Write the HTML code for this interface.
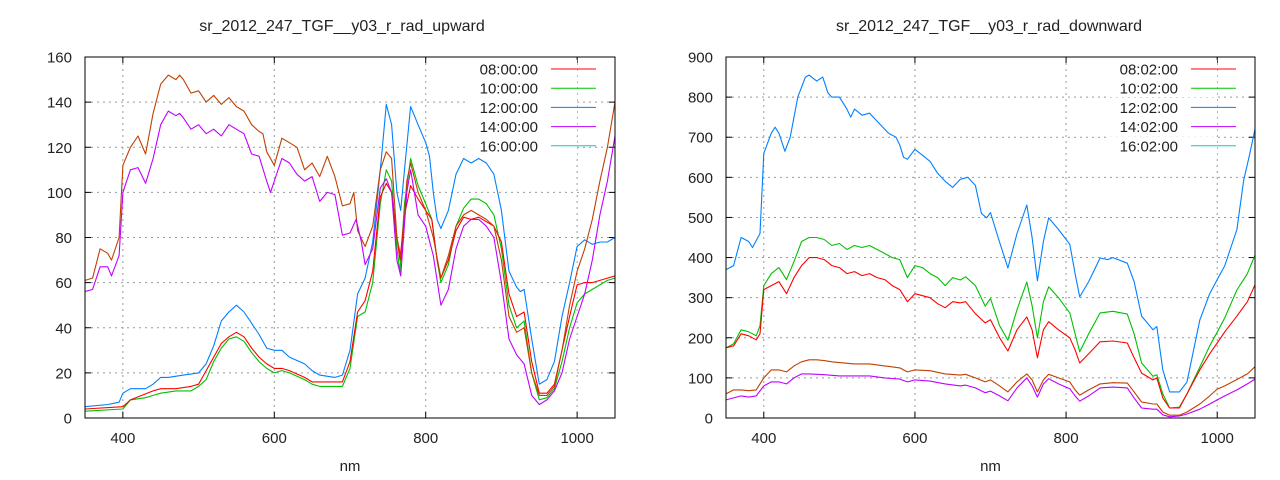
<!DOCTYPE html>
<html><head><meta charset="utf-8"><style>
body{margin:0;background:#fff;}
svg{display:block;font-family:"Liberation Sans",sans-serif;font-size:15px;fill:#222;}
</style></head><body>
<svg id="s" width="1280" height="480" xmlns="http://www.w3.org/2000/svg"></svg>
<script>
const S=document.getElementById('s');let h='';
const C={r:'#ff0000',g:'#00c000',b:'#0080ff',p:'#c000ff',o:'#c04000',c:'#00d0d0'};
function P(o){
 const X=n=>o.x0+(n-350)*(o.x1-o.x0)/700, Y=v=>418-v*(418-57)/o.ymax;
 h+=`<text x="${o.tc}" y="31" text-anchor="middle" style="font-size:16px">${o.title}</text>`;
 h+=`<text x="${(o.x0+o.x1)/2}" y="471" text-anchor="middle">nm</text>`;
 for(let v=0;v<=o.ymax;v+=o.ys){const y=Y(v);
  if(v>0&&v<o.ymax)h+=`<line x1="${o.x0}" x2="${o.x1}" y1="${y}" y2="${y}" stroke="#999" stroke-dasharray="2,4"/>`;
  h+=`<line x1="${o.x0}" x2="${o.x0+6}" y1="${y}" y2="${y}" stroke="#000"/><line x1="${o.x1-6}" x2="${o.x1}" y1="${y}" y2="${y}" stroke="#000"/>`;
  h+=`<text x="${o.x0-13}" y="${y+5.5}" text-anchor="end">${v}</text>`;}
 for(let n=400;n<=1000;n+=200){const x=X(n);
  h+=`<line x1="${x}" x2="${x}" y1="57" y2="418" stroke="#999" stroke-dasharray="2,4"/>`;
  h+=`<line x1="${x}" x2="${x}" y1="418" y2="412" stroke="#000"/><line x1="${x}" x2="${x}" y1="57" y2="63" stroke="#000"/>`;
  h+=`<text x="${x}" y="443" text-anchor="middle">${n}</text>`;}
 o.leg.forEach((t,i)=>{const y=69+i*19.2;
  h+=`<rect x="${o.x1-148}" y="${y-9}" width="110" height="18" fill="#fff"/>`;
  h+=`<text x="${o.x1-77}" y="${y+5.5}" text-anchor="end">${t[0]}</text>`;
  h+=`<line x1="${o.x1-64}" x2="${o.x1-19}" y1="${y}" y2="${y}" stroke="${C[t[1]]}"/>`;});
 h+=`<defs><clipPath id="c${o.x0}"><rect x="${o.x0}" y="57" width="${o.x1-o.x0}" height="361"/></clipPath></defs><g clip-path="url(#c${o.x0})">`;
 o.series.forEach(([col,d])=>{let pts=[];for(let i=0;i<d.length;i+=2)pts.push(X(d[i]).toFixed(1)+','+Y(d[i+1]).toFixed(1));
  h+=`<polyline fill="none" stroke="${C[col]}" stroke-width="1.1" stroke-linejoin="round" points="${pts.join(' ')}"/>`;});
 h+=`</g><rect x="${o.x0}" y="57" width="${o.x1-o.x0}" height="361" fill="none" stroke="#000"/>`;
}
P({x0:85,x1:615,tc:342,ymax:160,ys:20,title:'sr_2012_247_TGF__y03_r_rad_upward',
leg:[['08:00:00','r'],['10:00:00','g'],['12:00:00','b'],['14:00:00','p'],['16:00:00','c']],
series:[
['b',[350,5,380,6,395,7,400,11,410,13,420,13,430,13,440,15,450,18,460,18,480,19,500,20,510,24,520,32,530,43,540,47,550,50,560,47,570,42,580,37,590,31,600,30,610,30,620,27,640,24,650,21,660,19,680,18,690,19,700,30,710,55,720,62,730,78,740,110,748,139,755,130,762,100,767,92,772,110,780,138,790,130,800,122,805,116,810,100,815,88,820,84,830,92,840,108,850,115,860,113,870,115,880,113,890,108,900,92,910,65,920,58,925,56,930,57,940,35,950,15,960,17,970,25,980,45,990,60,1000,76,1010,79,1020,77,1030,78,1040,78,1050,80]],
['g',[350,3,400,4,410,8,430,9,440,10,450,11,470,12,490,12,500,14,510,17,520,25,530,31,540,35,550,36,560,34,570,29,580,25,590,22,600,20,610,21,620,20,640,17,650,15,660,14,690,14,700,22,710,45,720,47,730,60,740,95,748,110,755,105,762,75,766,65,772,95,780,115,790,103,800,95,808,88,815,70,820,60,830,68,840,85,850,93,860,97,870,97,880,95,890,90,900,75,910,50,920,40,930,43,940,20,950,8,960,9,970,13,980,25,990,40,1000,51,1010,55,1020,57,1030,59,1040,61,1050,62]],
['r',[350,4,400,5,410,8,440,12,450,13,470,13,490,14,500,15,520,27,530,33,540,36,550,38,560,36,570,31,580,27,590,24,600,22,610,22,620,21,640,18,650,16,690,16,700,25,710,47,720,52,730,65,740,98,748,104,755,100,762,80,766,70,772,90,780,103,790,97,800,92,808,88,815,70,820,62,830,70,840,83,850,89,860,88,870,89,880,87,890,85,900,78,910,55,920,45,930,47,940,25,950,11,960,11,970,15,980,30,990,45,1000,59,1010,60,1020,60,1030,61,1040,62,1050,63]],
['o',[350,61,360,62,370,75,380,73,385,70,395,80,400,112,410,120,420,125,430,117,440,135,450,148,460,152,470,150,475,152,480,150,490,144,500,145,510,140,520,143,530,139,540,142,550,138,560,136,570,130,580,127,585,126,590,118,600,112,610,124,620,122,630,120,640,110,650,113,660,107,670,116,680,107,690,94,700,95,705,100,710,83,720,76,730,85,740,110,748,118,755,115,762,80,768,70,775,105,780,113,790,100,800,92,810,80,820,62,830,72,840,85,850,90,860,92,870,90,880,88,890,85,900,70,910,45,920,38,930,40,940,20,950,10,960,10,970,14,980,30,990,50,1000,65,1010,75,1020,88,1030,105,1040,120,1050,140]],
['p',[350,56,360,57,370,67,380,67,385,63,395,72,400,100,410,110,420,111,430,104,440,115,450,130,460,136,470,134,475,135,480,133,490,128,500,130,510,126,520,128,530,125,540,130,550,128,560,126,570,117,580,116,590,105,595,100,600,105,610,115,620,113,630,108,640,105,650,107,660,96,670,100,680,99,690,81,700,82,708,88,715,78,720,68,730,75,740,102,748,106,755,100,762,70,767,63,775,100,780,110,790,90,800,85,810,72,820,50,830,57,840,75,850,85,860,88,870,88,880,85,890,80,900,60,910,35,920,28,930,24,940,10,950,6,960,8,970,12,980,20,990,35,1000,45,1010,55,1020,70,1030,90,1040,105,1050,125]]
]});
P({x0:726,x1:1255,tc:989,ymax:900,ys:100,title:'sr_2012_247_TGF__y03_r_rad_downward',
leg:[['08:02:00','r'],['10:02:00','g'],['12:02:00','b'],['14:02:00','p'],['16:02:00','c']],
series:[
['b',[350,370,355,375,360,380,370,450,380,440,385,425,395,460,400,660,410,710,415,725,420,710,428,665,435,700,445,800,455,850,460,855,470,840,478,850,485,810,490,800,500,800,510,770,515,750,520,770,530,755,540,760,550,740,560,720,565,710,575,700,580,680,585,650,590,645,600,670,610,655,620,640,630,610,640,590,650,575,660,595,670,600,680,580,688,510,695,499,700,512,710,450,723,374,735,460,748,531,755,450,762,342,770,440,777,499,790,470,805,433,812,360,818,302,830,340,845,399,855,395,862,400,881,386,890,340,900,254,915,220,920,228,928,120,937,65,950,65,960,90,977,244,990,310,1000,345,1010,380,1026,470,1035,593,1042,650,1050,720]],
['g',[350,175,360,185,370,220,380,215,390,205,395,230,400,330,410,360,420,375,430,345,440,390,450,440,460,450,470,450,480,445,490,430,500,435,510,420,520,430,530,425,540,430,550,420,560,410,570,400,580,395,590,350,600,380,610,375,620,360,630,350,640,330,650,350,660,344,667,352,680,330,693,279,700,298,712,230,723,194,735,270,748,339,755,280,762,200,770,290,777,327,790,300,805,262,812,210,818,165,830,210,845,262,862,266,881,259,890,210,900,137,915,104,920,108,928,60,937,25,950,27,960,60,977,127,990,180,1000,214,1010,250,1026,319,1040,360,1050,406]],
['r',[350,175,360,180,370,210,380,205,390,195,395,210,400,320,410,330,420,340,430,310,440,350,450,380,460,400,470,400,480,395,490,380,500,375,510,360,520,365,530,355,540,360,550,350,560,345,570,330,580,320,590,290,600,310,610,305,620,300,630,285,640,275,650,290,660,287,667,290,680,260,693,237,700,245,712,200,723,167,735,220,748,252,755,220,762,150,770,220,777,240,790,220,805,200,812,170,818,137,830,160,845,190,862,192,881,187,890,150,900,112,915,95,920,100,928,50,937,25,950,25,960,60,977,120,990,160,1000,187,1010,215,1026,254,1040,290,1050,332]],
['o',[350,60,360,70,370,70,380,68,390,70,400,100,410,120,420,120,430,115,440,130,450,140,460,145,470,145,480,143,490,140,500,138,520,135,540,135,560,130,580,125,590,115,600,120,620,118,640,110,660,107,667,109,680,100,693,90,700,95,712,80,723,65,735,90,748,110,755,95,762,65,770,95,777,109,790,100,805,90,812,70,818,57,830,70,845,85,862,88,881,87,890,65,900,40,915,35,920,35,928,15,937,7,950,7,960,15,977,35,990,55,1000,72,1010,80,1026,96,1040,110,1050,128]],
['p',[350,45,360,50,370,55,380,52,390,55,400,80,410,90,420,90,430,85,440,100,450,110,460,110,480,108,500,105,520,105,540,105,560,100,580,97,590,90,600,95,620,92,640,85,660,80,667,82,680,75,693,63,700,67,712,55,723,43,735,75,748,100,755,80,762,52,770,85,777,98,790,85,805,73,812,55,818,42,830,55,845,75,862,77,881,75,890,50,900,25,915,22,920,22,928,8,937,3,950,5,960,10,977,22,990,35,1000,45,1010,55,1026,70,1040,85,1050,97]]
]});
S.innerHTML=h;
</script>
</body></html>
